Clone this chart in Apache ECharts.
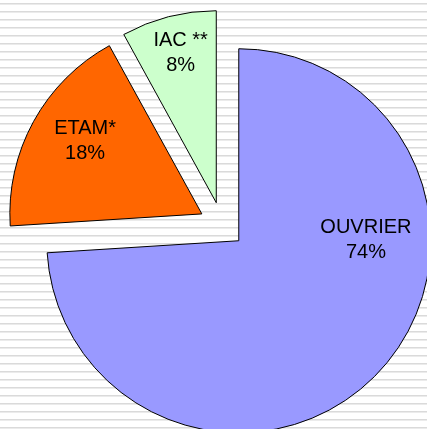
<!DOCTYPE html>
<html>
<head>
<meta charset="utf-8">
<script src="https://cdn.jsdelivr.net/npm/echarts@6/dist/echarts.min.js"></script>
<style>
    html, body { margin: 0; padding: 0; }
    body {
        width: 427px; height: 429px; overflow: hidden;
        /* fond rayé gris clair */
        background: repeating-linear-gradient(to bottom,
            #fff 0, #fff 3px, #dadada 3px, #dadada 4px, #ebebeb 4px, #ebebeb 5px, #fff 5px, #fff 8px);
    }
    #chart { width: 427px; height: 429px; }
</style>
</head>
<body>
<div id="chart"></div>
<script>
// catégories et valeurs (%)
const categories = ['OUVRIER', 'ETAM*', 'IAC **'];
const values = [74, 18, 8];
const colors = ['#9999ff', '#ff6600', '#ccffcc'];
// décalage des étiquettes par rapport à la position par défaut
const labelOffsets = [[55, -69], [-30, -25], [-11, -54]];

/**
 * construit les données du camembert
 */
function buildData() {
    return categories.map((name, i) => ({
        name: name,
        value: values[i],
        selected: true,
        itemStyle: { color: colors[i] }
    }));
}

const myChart = echarts.init(document.getElementById('chart'));
myChart.setOption({
    animation: false,
    series: [{
        type: 'pie',
        center: [222, 225],
        radius: [0, 192],
        startAngle: 90,
        clockwise: true,
        selectedMode: 'multiple',
        selectedOffset: 23,
        avoidLabelOverlap: false,
        itemStyle: { borderColor: '#000', borderWidth: 1 },
        label: {
            show: true,
            position: 'inside',
            formatter: '{b}\n{c}%',
            color: '#000',
            fontFamily: 'Liberation Sans, Arial, sans-serif',
            fontSize: 20,
            lineHeight: 25,
            align: 'center'
        },
        // déplace chaque étiquette comme dans l'original
        labelLayout: (params) => ({
            dx: labelOffsets[params.dataIndex][0],
            dy: labelOffsets[params.dataIndex][1]
        }),
        labelLine: { show: false },
        emphasis: { disabled: true },
        select: {
            itemStyle: { borderColor: '#000', borderWidth: 1 },
            label: { color: '#000' }
        },
        data: buildData()
    }]
});
</script>
</body>
</html>
